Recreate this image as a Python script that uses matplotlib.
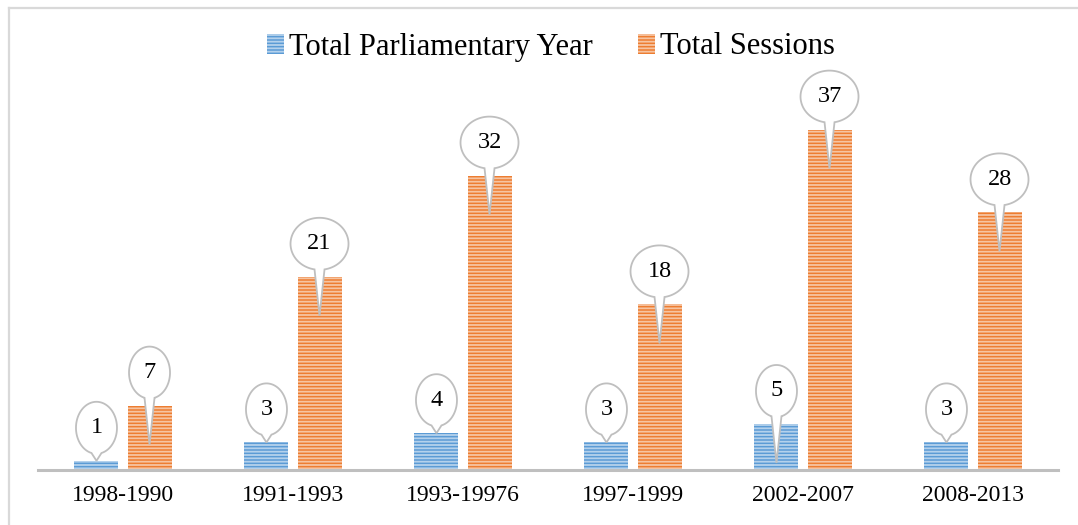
import numpy as np
import matplotlib
matplotlib.use("Agg")
import matplotlib.pyplot as plt
from matplotlib.patches import PathPatch
from matplotlib.path import Path
from matplotlib.lines import Line2D
import matplotlib.transforms as mtransforms

# Data
periods = ["1998-1990", "1991-1993", "1993-19976", "1997-1999", "2002-2007", "2008-2013"]
parl_years = [1, 3, 4, 3, 5, 3]
sessions = [7, 21, 32, 18, 37, 28]
series_names = ["Total Parliamentary Year", "Total Sessions"]

blue = "#5B9BD5"
orange = "#ED7D31"
grey = "#BFBFBF"

plt.rcParams["font.family"] = ["Liberation Serif", "DejaVu Serif"]
plt.rcParams["hatch.linewidth"] = 1.3

W, H, DPI = 1078, 525, 100
fig = plt.figure(figsize=(W / DPI, H / DPI), dpi=DPI)

# axes placed in pixels: x 38..1058, baseline y=470, 0..40 -> 368 px
ax = fig.add_axes([38 / W, (H - 470) / H, 1020 / W, 368 / H])

x = np.arange(len(periods))
bw = 0.259
off = 0.156
hatch_col = (1, 1, 1, 0.55)

b1 = ax.bar(x - off, parl_years, bw, color=blue, edgecolor=hatch_col, hatch="-----",
            linewidth=0, label=series_names[0], zorder=2)
b2 = ax.bar(x + off, sessions, bw, color=orange, edgecolor=hatch_col, hatch="-----",
            linewidth=0, label=series_names[1], zorder=2)

ax.set_xlim(-0.5, len(periods) - 0.5)
ax.set_ylim(0, 40)
ax.set_xticks(x)
ax.set_xticklabels(periods, fontsize=17)
ax.tick_params(axis="x", length=0, pad=11)
ax.set_yticks([])
for s in ["top", "left", "right"]:
    ax.spines[s].set_visible(False)
ax.spines["bottom"].set_color(grey)
ax.spines["bottom"].set_linewidth(2.2)
ax.spines["bottom"].set_zorder(3)


def callout(xc, val):
    # bubble drawn in pixel units around the top of the bar
    trans = (mtransforms.Affine2D().scale(1.0 / DPI) + fig.dpi_scale_trans
             + mtransforms.ScaledTranslation(xc, val, ax.transData))
    top_px = val * 368 / 40
    cy = 33.0
    a = 20.5 if len(str(val)) == 1 else 29.0
    b = 26.0
    hw = 5.0
    depth = 39.0
    if depth > top_px - 3:
        tip = 0.0
    else:
        tip = -depth
    t0 = -np.pi / 2 + np.arcsin(hw / a)
    t1 = 3 * np.pi / 2 - np.arcsin(hw / a)
    t = np.linspace(t0, t1, 120)
    verts = list(zip(a * np.cos(t), cy + b * np.sin(t)))
    verts.append((0.0, tip))
    verts.append(verts[0])
    codes = [Path.MOVETO] + [Path.LINETO] * (len(verts) - 2) + [Path.CLOSEPOLY]
    patch = PathPatch(Path(verts, codes), facecolor="white", edgecolor=grey,
                      linewidth=1.3, transform=trans, clip_on=False, zorder=5)
    ax.add_patch(patch)
    ax.text(0, cy, str(val), transform=trans, ha="center", va="center",
            fontsize=17.5, zorder=6, clip_on=False)


for xi, v in zip(x - off, parl_years):
    callout(xi, v)
for xi, v in zip(x + off, sessions):
    callout(xi, v)

fig.legend(handles=[b1, b2], loc="center", bbox_to_anchor=(0.511, (H - 47) / H),
           ncol=2, frameon=False, fontsize=22, handlelength=0.55, handleheight=0.65,
           handletextpad=0.15, columnspacing=1.5, borderpad=0)

# outer chart border (only top and left edges visible in the crop)
fig.add_artist(Line2D([8.5 / W, 1.0], [1 - 7.5 / H, 1 - 7.5 / H], color="#D9D9D9",
                      lw=1.6, transform=fig.transFigure))
fig.add_artist(Line2D([8.5 / W, 8.5 / W], [0.0, 1 - 7.5 / H], color="#D9D9D9",
                      lw=1.6, transform=fig.transFigure))

fig.savefig("out.png", dpi=DPI)
